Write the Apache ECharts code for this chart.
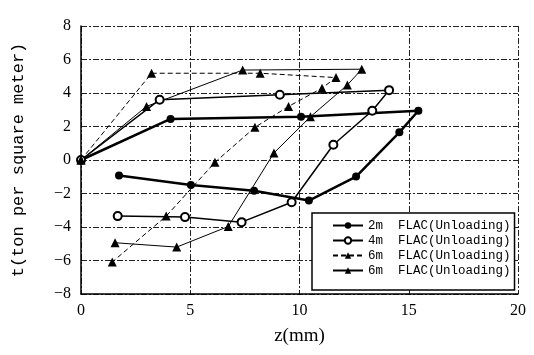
<!DOCTYPE html>
<html>
<head>
    <meta charset="UTF-8">
    <script src="https://cdn.jsdelivr.net/npm/echarts@6/dist/echarts.min.js"></script>
    <style>
        html, body { margin: 0; padding: 0; background: #fff; }
    </style>
</head>
<body>
<div id="main" style="width: 534px;height:355px;"></div>
<script>
    // legend labels (two 6m runs share the same text in the original)
    var seriesLabels = ['2m  FLAC(Unloading)', '4m  FLAC(Unloading)', '6m  FLAC(Unloading)', '6m  FLAC(Unloading)'];
    var xTicks = [0, 5, 10, 15, 20];
    var yTicks = [-8, -6, -4, -2, 0, 2, 4, 6, 8];

    // [z (mm), t (ton per square meter)]
    var flac2m = [[0, 0], [4.1, 2.45], [10.07, 2.58], [15.44, 2.94], [14.57, 1.65], [12.59, -0.99],
        [10.43, -2.42], [7.92, -1.83], [5.03, -1.49], [1.74, -0.93]];
    var flac4m = [[0, 0], [3.6, 3.6], [9.1, 3.9], [14.1, 4.17], [13.33, 2.94], [11.55, 0.91],
        [9.64, -2.52], [7.35, -3.71], [4.76, -3.41], [1.68, -3.35]];
    var flac6mA = [[0, 0], [3.23, 5.18], [8.2, 5.18], [11.67, 4.92], [11.03, 4.29], [9.5, 3.2],
        [7.96, 1.95], [6.13, -0.14], [3.9, -3.35], [1.43, -6.09]];
    var flac6mB = [[0, 0], [3.0, 3.2], [7.4, 5.37], [12.85, 5.42], [12.19, 4.48], [10.5, 2.58],
        [8.83, 0.42], [6.74, -3.97], [4.38, -5.2], [1.56, -4.94]];

    var serif = 'Liberation Serif';
    var mono = 'Liberation Mono';
    var keys = ['s0', 's1', 's2', 's3'];

    var myChart = echarts.init(document.getElementById('main'));
    var option = {
        animation: false,
        backgroundColor: '#fff',
        grid: {left: 81, right: 16, top: 26, bottom: 61},
        legend: {
            data: keys,
            orient: 'vertical',
            left: 312,
            top: 213,
            width: 200,
            padding: [6, 4, 13, 20],
            itemGap: 2,
            itemWidth: 30,
            itemHeight: 8,
            backgroundColor: '#fff',
            borderColor: '#000',
            borderWidth: 1.5,
            formatter: function (name) {
                return seriesLabels[keys.indexOf(name)];
            },
            textStyle: {fontFamily: mono, fontSize: 12.5, color: '#000'}
        },
        xAxis: {
            type: 'value',
            min: 0, max: 20, interval: 5,
            name: 'z(mm)',
            nameLocation: 'middle',
            nameGap: 33,
            nameTextStyle: {fontFamily: serif, fontSize: 19, color: '#000'},
            axisLine: {onZero: false, lineStyle: {color: '#000', width: 1.5}},
            axisTick: {show: false},
            axisLabel: {
                margin: 9, fontFamily: serif, fontSize: 16, color: '#000',
                formatter: function (v) { return xTicks.indexOf(v) >= 0 ? String(v) : ''; }
            },
            splitLine: {show: true, lineStyle: {color: '#222', width: 1, type: [6, 2, 2, 2]}}
        },
        yAxis: {
            type: 'value',
            min: -8, max: 8, interval: 2,
            name: 't(ton per square meter)',
            nameLocation: 'middle',
            nameGap: 54,
            nameTextStyle: {fontFamily: mono, fontSize: 17, color: '#000'},
            axisLine: {onZero: false, lineStyle: {color: '#000', width: 1.5}},
            axisTick: {show: false},
            axisLabel: {
                margin: 10, fontFamily: serif, fontSize: 16, color: '#000',
                formatter: function (v) { return yTicks.indexOf(v) >= 0 ? String(v).replace('-', '\u2212') : ''; }
            },
            splitLine: {show: true, lineStyle: {color: '#222', width: 1, type: [6, 2, 2, 2]}}
        },
        series: [
            {
                name: 's0', type: 'line', data: flac2m,
                symbol: 'circle', symbolSize: 8,
                lineStyle: {color: '#000', width: 2.5},
                itemStyle: {color: '#000'}
            },
            {
                name: 's1', type: 'line', data: flac4m,
                symbol: 'emptyCircle', symbolSize: 8,
                lineStyle: {color: '#000', width: 1.5},
                itemStyle: {color: '#000', borderWidth: 1.5}
            },
            {
                name: 's2', type: 'line', data: flac6mA,
                symbol: 'triangle', symbolSize: 9,
                lineStyle: {color: '#000', width: 1, type: [5, 3]},
                itemStyle: {color: '#000'}
            },
            {
                name: 's3', type: 'line', data: flac6mB,
                symbol: 'triangle', symbolSize: 9,
                lineStyle: {color: '#000', width: 1},
                itemStyle: {color: '#000'}
            }
        ]
    };
    myChart.setOption(option);
</script>
</body>
</html>
